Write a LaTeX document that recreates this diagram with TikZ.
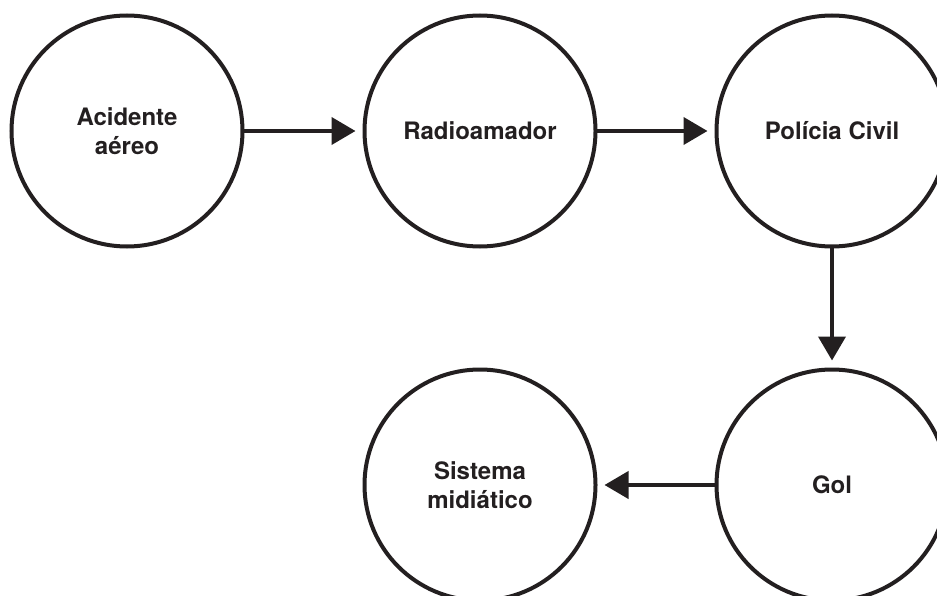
\documentclass[tikz,border=0pt]{standalone}
\usepackage{fontspec}
\setmainfont{TeX Gyre Heros}
\usetikzlibrary{arrows.meta}
\definecolor{ink}{RGB}{35,31,32}
\tikzset{
  x=1pt,y=1pt,
  bubble/.style={circle, draw=ink, line width=4pt, minimum size=231pt, inner sep=0pt, outer sep=0pt,
    align=center, text=ink, font=\fontsize{24}{28.5}\selectfont\bfseries},
  flow/.style={draw=ink, line width=4pt, shorten >=9pt, -{Triangle[length=24pt,width=27pt]}}
}
\begin{document}
\begin{tikzpicture}
\useasboundingbox (0,0) rectangle (937,-596);
\clip (0,0) rectangle (937,-596);
\node[bubble] (a) at (127,-131) {Acidente\\aéreo};
\node[bubble] (b) at (480,-131) {Radioamador};
\node[bubble] (c) at (832,-131) {Polícia Civil};
\node[bubble] (d) at (832,-485) {Gol};
\node[bubble] (e) at (480,-485) {Sistema\\midiático};
\draw[flow] (a) -- (b);
\draw[flow] (b) -- (c);
\draw[flow] (c) -- (d);
\draw[flow] (d) -- (e);
\end{tikzpicture}
\end{document}
